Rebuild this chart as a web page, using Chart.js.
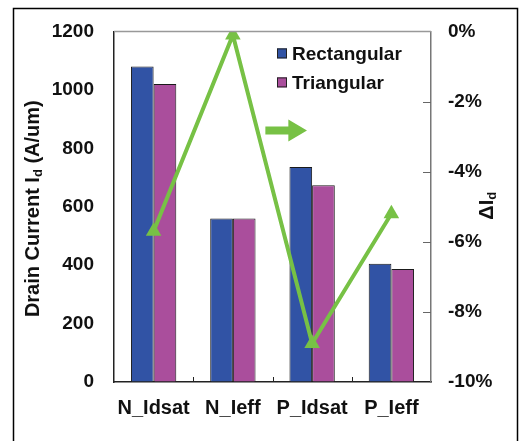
<!DOCTYPE html>
<html>
<head>
<meta charset="utf-8">
<script src="https://cdn.jsdelivr.net/npm/chart.js@4.4.0/dist/chart.umd.min.js"></script>
<style>
    body { margin: 0; background: #fff; }
    #chart { display: block; }
</style>
</head>
<body>
<canvas id="chart" width="520" height="441"></canvas>
<script>
/* chart data */
const categories = ["N_Idsat", "N_Ieff", "P_Idsat", "P_Ieff"];
const rectangular = [1080, 560, 736, 405];
const triangular = [1020, 560, 673, 387];
const deltaId = [-5.7, -0.1, -8.9, -5.2];   // percent, right axis

const FONT = "'Liberation Sans', Arial, sans-serif";
const GREEN = "#77C145";

/*
    extra drawing: frame, top/right axis lines, inner ticks, titles, legend, arrow
*/
const decorPlugin = {
    id: "decor",
    beforeDraw(chart) {
        const ctx = chart.ctx;
        ctx.save();
        ctx.fillStyle = "#fff";
        ctx.fillRect(0, 0, chart.width, chart.height);
        ctx.strokeStyle = "#000";
        ctx.lineWidth = 1.5;
        ctx.strokeRect(13.5, 8.5, 504, 500);
        ctx.restore();
    },
    afterDatasetsDraw(chart) {
        const ctx = chart.ctx;
        const area = chart.chartArea;
        const x = chart.scales.x;
        const y1 = chart.scales.y1;

        ctx.save();
        // top line
        ctx.strokeStyle = "#999";
        ctx.lineWidth = 1.5;
        ctx.beginPath();
        ctx.moveTo(area.left, area.top);
        ctx.lineTo(area.right, area.top);
        ctx.stroke();

        // inward ticks on right axis
        ctx.strokeStyle = "#666";
        ctx.lineWidth = 1;
        y1.ticks.forEach(t => {
            if (t.value === y1.min || t.value === y1.max) return;
            const py = Math.round(y1.getPixelForValue(t.value)) + 0.5;
            ctx.beginPath();
            ctx.moveTo(area.right - 8, py);
            ctx.lineTo(area.right, py);
            ctx.stroke();
        });

        // inward ticks between categories
        ctx.strokeStyle = "#222";
        for (let i = 1; i < categories.length; i++) {
            const px = Math.round((x.getPixelForValue(i - 1) + x.getPixelForValue(i)) / 2) + 0.5;
            ctx.beginPath();
            ctx.moveTo(px, area.bottom);
            ctx.lineTo(px, area.bottom - 5);
            ctx.stroke();
        }

        // arrow pointing to the right axis
        const step = x.getPixelForValue(2) - x.getPixelForValue(1);
        const ax = v => x.getPixelForValue(1) + (v - 1) * step;
        const ay = y1.getPixelForValue(-2.83);
        ctx.fillStyle = GREEN;
        ctx.beginPath();
        ctx.moveTo(ax(1.41), ay - 4);
        ctx.lineTo(ax(1.70), ay - 4);
        ctx.lineTo(ax(1.70), ay - 11);
        ctx.lineTo(ax(1.935), ay);
        ctx.lineTo(ax(1.70), ay + 11);
        ctx.lineTo(ax(1.70), ay + 4);
        ctx.lineTo(ax(1.41), ay + 4);
        ctx.closePath();
        ctx.fill();
        ctx.restore();
    },
    afterDraw(chart) {
        const ctx = chart.ctx;
        const area = chart.chartArea;
        const midY = (area.top + area.bottom) / 2;

        drawSubTitle(ctx, "Drain Current I", "d", " (A/um)", 33, midY + 2);
        drawSubTitle(ctx, "\u0394I", "d", "", 487, midY - 1);

        // legend inside plot area (bar series only)
        ctx.save();
        ctx.font = "bold 19px " + FONT;
        ctx.textBaseline = "middle";
        ctx.textAlign = "left";
        chart.data.datasets.filter(ds => ds.type === "bar").forEach((ds, i) => {
            const lx = area.right - 154;
            const ly = area.top + 22 + i * 29;
            ctx.fillStyle = ds.backgroundColor;
            ctx.fillRect(lx, ly - 5, 10, 10);
            ctx.strokeStyle = "#222";
            ctx.lineWidth = 1;
            ctx.strokeRect(lx + 0.5, ly - 4.5, 9, 9);
            ctx.fillStyle = "#111";
            ctx.fillText(ds.label, lx + 15, ly + 1);
        });
        ctx.restore();
    }
};

/*
    rotated axis title with a subscript part
*/
function drawSubTitle(ctx, before, sub, after, cx, cy) {
    ctx.save();
    ctx.translate(cx, cy);
    ctx.rotate(-Math.PI / 2);
    ctx.fillStyle = "#111";
    ctx.textBaseline = "middle";
    ctx.textAlign = "left";

    const mainFont = "bold 20px " + FONT;
    const subFont = "bold 13px " + FONT;
    ctx.font = mainFont;
    const w1 = ctx.measureText(before).width;
    const w3 = ctx.measureText(after).width;
    ctx.font = subFont;
    const w2 = ctx.measureText(sub).width;

    let px = -(w1 + w2 + w3) / 2;
    ctx.font = mainFont;
    ctx.fillText(before, px, 0);
    px += w1;
    ctx.font = subFont;
    ctx.fillText(sub, px, 5);
    px += w2;
    ctx.font = mainFont;
    ctx.fillText(after, px, 0);
    ctx.restore();
}

const ctx = document.getElementById("chart").getContext("2d");

const chart = new Chart(ctx, {
    data: {
        labels: categories,
        datasets: [
            {
                type: "line",
                label: "\u0394Id",
                data: deltaId,
                yAxisID: "y1",
                borderColor: GREEN,
                borderWidth: 4,
                backgroundColor: GREEN,
                pointStyle: "triangle",
                pointRadius: 9,
                pointBorderWidth: 0,
                pointBackgroundColor: GREEN,
                tension: 0,
                order: 0
            },
            {
                type: "bar",
                label: "Rectangular",
                data: rectangular,
                yAxisID: "y",
                backgroundColor: "#3153A5",
                borderColor: "#1a1a1a",
                borderWidth: 1,
                categoryPercentage: 0.572,
                barPercentage: 1.0,
                order: 1
            },
            {
                type: "bar",
                label: "Triangular",
                data: triangular,
                yAxisID: "y",
                backgroundColor: "#AA4E9C",
                borderColor: "#1a1a1a",
                borderWidth: 1,
                categoryPercentage: 0.572,
                barPercentage: 1.0,
                order: 2
            }
        ]
    },
    options: {
        responsive: false,
        animation: false,
        devicePixelRatio: 1,
        layout: {
            padding: { left: 14, top: 30, right: 0, bottom: 0 }
        },
        plugins: {
            legend: { display: false },
            tooltip: { enabled: false }
        },
        scales: {
            x: {
                grid: { drawOnChartArea: false, drawTicks: false },
                border: { display: true, color: "#222", width: 1.5 },
                ticks: {
                    color: "#111",
                    padding: 14,
                    font: { family: FONT, size: 20, weight: "bold" }
                },
                afterFit(scale) { scale.height = 59; }
            },
            y: {
                position: "left",
                min: 0,
                max: 1200,
                grid: { drawOnChartArea: false, drawTicks: false },
                border: { display: true, color: "#222", width: 1.5 },
                ticks: {
                    stepSize: 200,
                    color: "#111",
                    padding: 20,
                    font: { family: FONT, size: 19, weight: "bold" },
                    callback: v => String(v)
                },
                afterFit(scale) { scale.width = 100; }
            },
            y1: {
                position: "right",
                min: -10,
                max: 0,
                grid: { drawOnChartArea: false, drawTicks: false },
                border: { display: true, color: "#777", width: 1.5 },
                ticks: {
                    stepSize: 2,
                    color: "#111",
                    padding: 17,
                    font: { family: FONT, size: 19, weight: "bold" },
                    callback: v => v + "%"
                },
                afterFit(scale) { scale.width = 89; }
            }
        }
    },
    plugins: [decorPlugin]
});
</script>
</body>
</html>
